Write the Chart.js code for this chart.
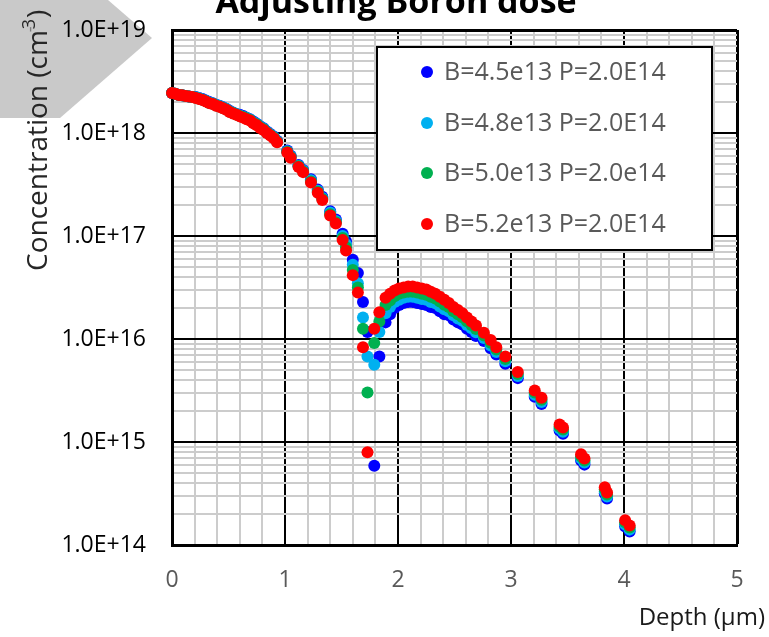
<!DOCTYPE html>
<html>
<head>
<meta charset="utf-8">
<script src="https://cdn.jsdelivr.net/npm/chart.js@4.4.1/dist/chart.umd.min.js"></script>
<style>
html, body { margin: 0; padding: 0; background: #fff; }
</style>
</head>
<body>
<canvas id="myChart" width="769" height="637"></canvas>
<script>
// depth in um, shared by all four profiles
const depth = [0, 0.03, 0.06, 0.09, 0.12, 0.15, 0.18, 0.21, 0.24, 0.27, 0.30, 0.33, 0.36, 0.39, 0.42, 0.45,
  0.48, 0.51, 0.54, 0.57, 0.60, 0.63, 0.66, 0.69, 0.72, 0.75, 0.78, 0.81, 0.84, 0.87, 0.90, 0.93,
  1.02, 1.05, 1.12, 1.16, 1.23, 1.29, 1.33, 1.40, 1.45, 1.51, 1.54, 1.60, 1.645, 1.69, 1.73, 1.79, 1.835, 1.89,
  1.93, 1.97, 2.01, 2.05, 2.09, 2.13, 2.17, 2.21, 2.25, 2.29, 2.33, 2.37, 2.41, 2.45, 2.49, 2.53, 2.57, 2.61, 2.65, 2.69,
  2.76, 2.82, 2.87, 2.95, 3.06, 3.21, 3.27, 3.43, 3.46, 3.62, 3.65, 3.83, 3.85, 4.01, 4.05];

const concB45 = [2.45e18, 2.40e18, 2.34e18, 2.32e18, 2.29e18, 2.26e18, 2.24e18, 2.24e18, 2.19e18, 2.14e18, 2.07e18, 2.00e18, 1.95e18, 1.88e18, 1.84e18, 1.78e18,
  1.72e18, 1.64e18, 1.58e18, 1.53e18, 1.50e18, 1.46e18, 1.41e18, 1.36e18, 1.29e18, 1.23e18, 1.16e18, 1.11e18, 1.035e18, 9.77e17, 9.23e17, 8.41e17,
  6.76e17, 6.03e17, 4.90e17, 4.37e17, 3.55e17, 2.82e17, 2.40e17, 1.74e17, 1.45e17, 1.05e17, 8.91e16, 5.89e16, 4.37e16, 2.29e16, 1.17e16, 5.89e14, 6.76e15, 1.45e16,
  1.74e16, 2.00e16, 2.14e16, 2.24e16, 2.29e16, 2.29e16, 2.24e16, 2.19e16, 2.14e16, 2.04e16, 2.00e16, 1.86e16, 1.74e16, 1.70e16, 1.55e16, 1.45e16, 1.38e16, 1.26e16, 1.17e16, 1.07e16,
  9.55e15, 8.13e15, 7.08e15, 5.75e15, 4.17e15, 2.75e15, 2.34e15, 1.29e15, 1.20e15, 6.61e14, 6.03e14, 3.16e14, 2.82e14, 1.51e14, 1.35e14];

const concB48 = [2.45e18, 2.40e18, 2.34e18, 2.32e18, 2.29e18, 2.26e18, 2.24e18, 2.22e18, 2.17e18, 2.12e18, 2.05e18, 1.98e18, 1.93e18, 1.87e18, 1.83e18, 1.77e18,
  1.71e18, 1.63e18, 1.57e18, 1.52e18, 1.48e18, 1.44e18, 1.40e18, 1.35e18, 1.27e18, 1.22e18, 1.15e18, 1.10e18, 1.02e18, 9.66e17, 9.12e17, 8.32e17,
  6.65e17, 5.93e17, 4.82e17, 4.30e17, 3.47e17, 2.75e17, 2.34e17, 1.69e17, 1.40e17, 1.00e17, 8.32e16, 5.25e16, 3.47e16, 1.62e16, 6.76e15, 5.62e15, 1.17e16, 1.78e16,
  2.04e16, 2.29e16, 2.40e16, 2.51e16, 2.57e16, 2.57e16, 2.51e16, 2.45e16, 2.40e16, 2.29e16, 2.22e16, 2.07e16, 1.94e16, 1.86e16, 1.70e16, 1.585e16, 1.50e16, 1.37e16, 1.27e16, 1.16e16,
  1.02e16, 8.65e15, 7.47e15, 6.07e15, 4.37e15, 2.88e15, 2.45e15, 1.35e15, 1.26e15, 6.92e14, 6.31e14, 3.31e14, 2.95e14, 1.585e14, 1.41e14];

const concB50 = [2.45e18, 2.40e18, 2.34e18, 2.32e18, 2.29e18, 2.26e18, 2.24e18, 2.20e18, 2.15e18, 2.10e18, 2.03e18, 1.96e18, 1.92e18, 1.85e18, 1.81e18, 1.75e18,
  1.69e18, 1.61e18, 1.56e18, 1.51e18, 1.46e18, 1.43e18, 1.38e18, 1.34e18, 1.26e18, 1.21e18, 1.14e18, 1.09e18, 1.01e18, 9.55e17, 9.02e17, 8.22e17,
  6.56e17, 5.84e17, 4.75e17, 4.23e17, 3.39e17, 2.69e17, 2.29e17, 1.63e17, 1.36e17, 9.55e16, 7.76e16, 4.68e16, 3.16e16, 1.26e16, 3.02e15, 9.12e15, 1.48e16, 2.14e16,
  2.37e16, 2.60e16, 2.75e16, 2.82e16, 2.88e16, 2.88e16, 2.82e16, 2.75e16, 2.69e16, 2.57e16, 2.47e16, 2.31e16, 2.15e16, 2.04e16, 1.86e16, 1.74e16, 1.63e16, 1.49e16, 1.37e16, 1.25e16,
  1.08e16, 9.19e15, 7.89e15, 6.41e15, 4.57e15, 3.02e15, 2.57e15, 1.41e15, 1.32e15, 7.24e14, 6.61e14, 3.47e14, 3.09e14, 1.66e14, 1.48e14];

const concB52 = [2.45e18, 2.40e18, 2.34e18, 2.32e18, 2.29e18, 2.26e18, 2.24e18, 2.19e18, 2.14e18, 2.09e18, 2.02e18, 1.95e18, 1.91e18, 1.84e18, 1.80e18, 1.74e18,
  1.68e18, 1.60e18, 1.55e18, 1.50e18, 1.45e18, 1.41e18, 1.36e18, 1.32e18, 1.24e18, 1.19e18, 1.12e18, 1.07e18, 1.00e18, 9.44e17, 8.91e17, 8.13e17,
  6.46e17, 5.75e17, 4.68e17, 4.17e17, 3.31e17, 2.63e17, 2.24e17, 1.58e17, 1.32e17, 9.12e16, 7.24e16, 4.17e16, 2.82e16, 8.32e15, 7.94e14, 1.26e16, 1.82e16, 2.51e16,
  2.75e16, 2.95e16, 3.09e16, 3.16e16, 3.24e16, 3.24e16, 3.16e16, 3.09e16, 3.02e16, 2.88e16, 2.75e16, 2.57e16, 2.40e16, 2.24e16, 2.04e16, 1.91e16, 1.78e16, 1.62e16, 1.48e16, 1.35e16,
  1.15e16, 9.77e15, 8.32e15, 6.76e15, 4.79e15, 3.16e15, 2.69e15, 1.48e15, 1.38e15, 7.59e14, 6.92e14, 3.63e14, 3.24e14, 1.74e14, 1.55e14];

const seriesLabels = ['B=4.5e13 P=2.0E14', 'B=4.8e13 P=2.0E14', 'B=5.0e13 P=2.0e14', 'B=5.2e13 P=2.0E14'];
const seriesColors = ['#0000ff', '#00b0f0', '#00b050', '#ff0000'];
const xTickLabels = ['0', '1', '2', '3', '4', '5'];
const yTickLabels = ['1.0E+14', '1.0E+15', '1.0E+16', '1.0E+17', '1.0E+18', '1.0E+19'];

const FONT = '"Open Sans", "Noto Sans", sans-serif';

function toPoints(values) {
  return depth.map((d, i) => ({ x: d, y: values[i] }));
}

function isInt(v) { return Math.abs(v - Math.round(v)) < 1e-6; }
function isDecade(v) { const l = Math.log10(v); return Math.abs(l - Math.round(l)) < 1e-6; }

const allSeries = [concB45, concB48, concB50, concB52];
const datasets = allSeries.map((vals, i) => ({
  label: seriesLabels[i],
  data: toPoints(vals),
  backgroundColor: seriesColors[i],
  borderColor: seriesColors[i],
  pointRadius: 6,
  pointHoverRadius: 6,
  pointBorderWidth: 0,
  order: 4 - i,
  clip: false
}));

const decorations = {
  id: 'decorations',
  beforeDraw(chart) {
    const c = chart.ctx;
    c.save();
    c.fillStyle = '#fff';
    c.fillRect(0, 0, chart.width, chart.height);
    // grey arrow shape behind the axis title
    c.fillStyle = '#c9c9c9';
    c.beginPath();
    c.moveTo(0, 0);
    c.lineTo(108, 0);
    c.lineTo(152, 38);
    c.lineTo(60, 118);
    c.lineTo(0, 118);
    c.closePath();
    c.fill();
    c.restore();
  },
  afterDatasetsDraw(chart) {
    const c = chart.ctx;
    c.save();
    // legend box
    c.fillStyle = '#fff';
    c.fillRect(377, 47, 335, 203);
    c.strokeStyle = '#000';
    c.lineWidth = 2;
    c.strokeRect(377, 47, 335, 203);
    const rows = [72, 123, 173, 224];
    c.font = '25px ' + FONT;
    c.textBaseline = 'middle';
    c.textAlign = 'left';
    seriesLabels.forEach((lab, i) => {
      c.fillStyle = seriesColors[i];
      c.beginPath();
      c.arc(427, rows[i], 6, 0, Math.PI * 2);
      c.fill();
      c.fillStyle = '#595959';
      c.fillText(lab, 444, rows[i] + 1);
    });
    c.restore();
  },
  afterDraw(chart) {
    const c = chart.ctx;
    c.save();
    // title, cut at the top like the original
    c.fillStyle = '#000';
    c.font = 'bold 34px ' + FONT;
    c.textAlign = 'center';
    c.textBaseline = 'alphabetic';
    c.fillText('Adjusting Boron dose', 396, 13);

    // x axis title
    c.fillStyle = '#1a1a1a';
    c.font = '24px ' + FONT;
    c.textAlign = 'right';
    c.textBaseline = 'middle';
    c.fillText('Depth (\u00b5m)', 765, 618);

    // y axis title with superscript
    c.translate(39, 271);
    c.rotate(-Math.PI / 2);
    c.fillStyle = '#262626';
    c.font = '28px ' + FONT;
    c.textAlign = 'left';
    c.textBaseline = 'middle';
    const main = 'Concentration (cm';
    c.fillText(main, 0, 0);
    const w = c.measureText(main).width;
    c.font = '18px ' + FONT;
    c.fillStyle = '#7f7f7f';
    c.fillText('-', w - 2, -8);
    const mw = c.measureText('-').width;
    c.fillStyle = '#262626';
    c.fillText('3', w + mw - 5, -9);
    const sw = c.measureText('3').width;
    c.font = '28px ' + FONT;
    c.fillText(')', w + mw + sw - 4, 0);
    c.restore();
  }
};

const config = {
  type: 'scatter',
  data: { datasets: datasets },
  options: {
    responsive: false,
    animation: false,
    devicePixelRatio: 1,
    layout: { padding: 0 },
    plugins: {
      legend: { display: false },
      title: { display: false },
      tooltip: { enabled: false }
    },
    scales: {
      x: {
        type: 'linear',
        min: 0,
        max: 5,
        afterBuildTicks: scale => {
          const t = [];
          for (let k = 0; k <= 25; k++) t.push({ value: k / 5 });
          scale.ticks = t;
        },
        afterFit: scale => {
          scale.height = 92;
          scale.paddingLeft = 0;
          scale.paddingRight = 32;
        },
        ticks: {
          autoSkip: false,
          maxRotation: 0,
          padding: 22,
          color: '#595959',
          font: { family: FONT, size: 23 },
          callback: v => isInt(v) ? xTickLabels[Math.round(v)] : ''
        },
        grid: {
          drawTicks: false,
          color: c => isInt(c.tick.value) ? '#000' : '#cccccc',
          lineWidth: c => c.tick.value >= 5 - 1e-6 ? 3 : (isInt(c.tick.value) ? 2 : 2)
        },
        border: { display: true, color: '#000', width: 3 }
      },
      y: {
        type: 'logarithmic',
        min: 1e14,
        max: 1e19,
        afterBuildTicks: scale => {
          const t = [];
          for (let e = 14; e < 19; e++) {
            for (let m = 1; m < 10; m++) t.push({ value: m * Math.pow(10, e) });
          }
          t.push({ value: 1e19 });
          scale.ticks = t;
        },
        afterFit: scale => {
          scale.width = 172;
          scale.paddingTop = 30;
          scale.paddingBottom = 0;
        },
        ticks: {
          autoSkip: false,
          padding: 26,
          color: '#000',
          font: { family: FONT, size: 23 },
          callback: v => isDecade(v) ? yTickLabels[Math.round(Math.log10(v)) - 14] : ''
        },
        grid: {
          drawTicks: false,
          color: c => isDecade(c.tick.value) ? '#000' : '#cccccc',
          lineWidth: c => c.tick.value >= 1e19 * 0.999 ? 3 : 2
        },
        border: { display: true, color: '#000', width: 3 }
      }
    }
  },
  plugins: [decorations]
};

new Chart(document.getElementById('myChart'), config);
</script>
</body>
</html>
